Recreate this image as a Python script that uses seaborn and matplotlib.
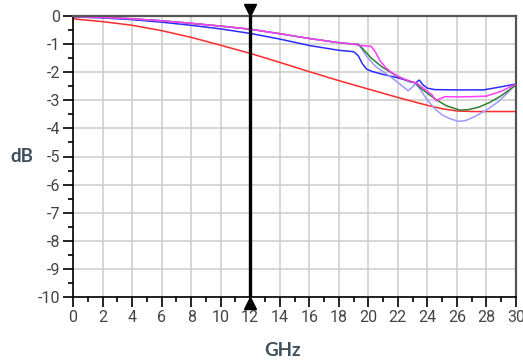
import numpy as np
import pandas as pd
import matplotlib.pyplot as plt
import matplotlib.transforms as mtransforms
from matplotlib.ticker import MultipleLocator
import seaborn as sns

# red trace
red_f = [0, 1, 2, 4, 6, 8, 10, 12, 14, 16, 18, 20, 22, 24, 25, 26, 27, 30]
red_db = [-0.1, -0.15, -0.2, -0.33, -0.52, -0.76, -1.04, -1.33, -1.65, -1.98, -2.3, -2.6,
          -2.9, -3.18, -3.3, -3.38, -3.4, -3.4]

# blue trace
blue_f = [0, 2, 4, 6, 8, 10, 12, 14, 16, 18, 19, 19.3, 19.6, 19.9, 20.3, 21, 22, 22.9,
          23.2, 23.45, 23.7, 24, 24.5, 26, 27.8, 29, 30]
blue_db = [-0.03, -0.07, -0.13, -0.22, -0.33, -0.46, -0.62, -0.82, -1.05, -1.22, -1.27,
           -1.4, -1.7, -1.9, -1.98, -2.08, -2.2, -2.34, -2.38, -2.28, -2.45, -2.57, -2.62,
           -2.63, -2.63, -2.52, -2.42]

# the three upper traces run together up to 19 GHz
top_f = [0, 2, 4, 6, 8, 10, 12, 14, 16, 18, 19]
top_db = [-0.02, -0.05, -0.1, -0.17, -0.26, -0.36, -0.47, -0.63, -0.8, -0.95, -1.0]

magenta_f = [19.5, 20.2, 20.5, 20.8, 21.2, 21.6, 22.2, 22.8, 23.3, 23.8, 24.3, 24.6, 24.8,
             25.2, 26, 27, 28, 29, 30]
magenta_db = [-1.05, -1.08, -1.3, -1.6, -1.85, -2.02, -2.2, -2.31, -2.4, -2.6, -2.8, -3.02,
              -2.95, -2.87, -2.88, -2.87, -2.85, -2.68, -2.42]

green_f = [19.3, 19.6, 20.2, 20.9, 21.8, 22.8, 23.2, 23.5, 24, 24.6, 25.3, 26.2, 26.8,
           27.5, 28.2, 28.9, 29.5, 30]
green_db = [-1.0, -1.15, -1.5, -1.8, -2.1, -2.34, -2.38, -2.55, -2.75, -2.98, -3.2, -3.35,
            -3.33, -3.24, -3.08, -2.87, -2.65, -2.45]

lavender_f = [19.4, 19.9, 20.5, 21.6, 22.2, 22.7, 23.2, 23.5, 23.9, 24.5, 25, 25.5, 26.1,
              26.6, 27.2, 28, 28.8, 29.4, 30]
lavender_db = [-1.05, -1.45, -1.8, -2.2, -2.45, -2.66, -2.42, -2.6, -2.92, -3.3, -3.52,
               -3.65, -3.75, -3.72, -3.58, -3.35, -3.05, -2.75, -2.4]

marker_ghz = 12

colors = {
    "red": "#ff2a2a",
    "blue": "#2b2bff",
    "lavender": "#9a9aff",
    "green": "#2f7d32",
    "magenta": "#ff3cff",
}

# build long form table
rows = []
rows += [("red", f, d) for f, d in zip(red_f, red_db)]
rows += [("blue", f, d) for f, d in zip(blue_f, blue_db)]
rows += [("lavender", f, d) for f, d in zip(top_f + lavender_f, top_db + lavender_db)]
rows += [("green", f, d) for f, d in zip(top_f + green_f, top_db + green_db)]
rows += [("magenta", f, d) for f, d in zip(top_f + magenta_f, top_db + magenta_db)]
df = pd.DataFrame(rows, columns=["trace", "GHz", "dB"])

sns.set_theme(style="white")
plt.rcParams["font.family"] = ["Roboto", "DejaVu Sans"]
plt.rcParams["axes.unicode_minus"] = False

fig = plt.figure(figsize=(5.23, 3.60), dpi=100)
ax = fig.add_axes([73 / 523, 1 - 297 / 360, (516 - 73) / 523, (297 - 16) / 360])

sns.lineplot(data=df, x="GHz", y="dB", hue="trace", palette=colors,
             hue_order=list(colors.keys()), estimator=None, sort=False,
             legend=False, linewidth=1.1, ax=ax)

ax.set_xlim(0, 30)
ax.set_ylim(-10, 0)
ax.xaxis.set_major_locator(MultipleLocator(2))
ax.xaxis.set_minor_locator(MultipleLocator(1))
ax.yaxis.set_major_locator(MultipleLocator(1))
ax.yaxis.set_minor_locator(MultipleLocator(0.5))
ax.grid(True, which="major", color="#cccccc", linewidth=1.1)
ax.set_axisbelow(True)

ax.tick_params(which="major", direction="out", length=7, width=1.2, color="black",
               labelsize=11.5, labelcolor="#444444", pad=2, bottom=True, left=True)
ax.tick_params(which="minor", direction="out", length=3.5, width=1.2, color="black",
               bottom=True, left=True)

for side in ["left", "bottom"]:
    ax.spines[side].set_color("black")
    ax.spines[side].set_linewidth(1.2)
for side in ["top", "right"]:
    ax.spines[side].set_color("#555555")
    ax.spines[side].set_linewidth(1.6)

ax.set_xlabel("")
ax.set_ylabel("")

# frequency marker
ax.plot([marker_ghz, marker_ghz], [-10, 0], color="black", linewidth=2.4, zorder=5)
up = mtransforms.offset_copy(ax.transData, fig=fig, y=4, units="points")
down = mtransforms.offset_copy(ax.transData, fig=fig, y=-4, units="points")
ax.plot([marker_ghz], [0], marker="v", color="black", markersize=9, transform=up,
        clip_on=False, zorder=6)
ax.plot([marker_ghz], [-10], marker="^", color="black", markersize=9, transform=down,
        clip_on=False, zorder=6)

label_kw = dict(fontsize=13.5, fontweight="bold", color="#3d4f5c",
                family=["Lato", "DejaVu Sans"], ha="center", va="center")
fig.text(22 / 523, 1 - 156 / 360, "dB", **label_kw)
fig.text(283 / 523, 1 - 351 / 360, "GHz", **label_kw)

fig.savefig("out.png", dpi=100)
